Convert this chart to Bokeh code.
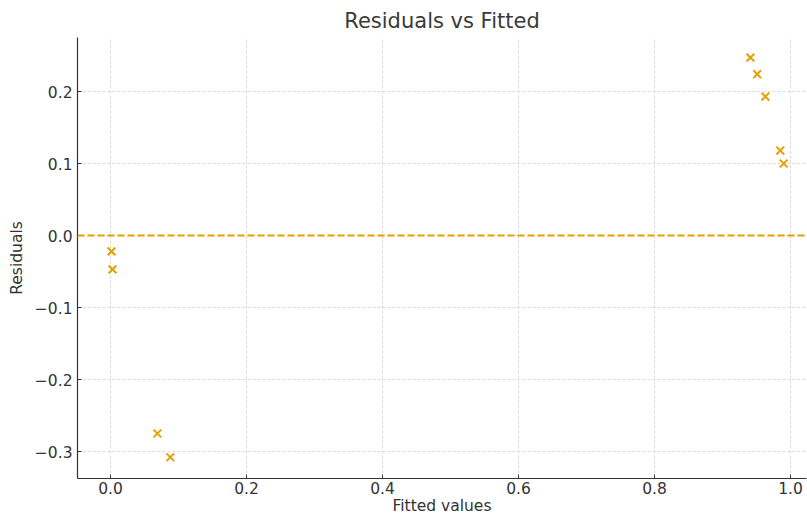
from bokeh.plotting import figure
from bokeh.models import Span, FixedTicker, CustomJSTickFormatter, Range1d
from bokeh.embed import file_html
from bokeh.resources import INLINE

fitted = [0.941, 0.951, 0.963, 0.985, 0.990, 0.0015, 0.003, 0.069, 0.088]
residuals = [0.247, 0.224, 0.193, 0.118, 0.100, -0.022, -0.047, -0.275, -0.308]
x_ticks = [0.0, 0.2, 0.4, 0.6, 0.8, 1.0]
y_ticks = [-0.3, -0.2, -0.1, 0.0, 0.1, 0.2]

ORANGE = "#E69F00"
FONT = "DejaVu Sans"

p = figure(width=807, height=519, output_backend="svg", toolbar_location=None,
           x_range=Range1d(-0.0485, 1.0235), y_range=Range1d(-0.3375, 0.275),
           min_border_left=77, min_border_right=1, min_border_top=37, min_border_bottom=41)

p.title.text = "Residuals vs Fitted"
p.title.align = "center"
p.title.text_font = FONT
p.title.text_font_size = "21px"
p.title.text_font_style = "normal"
p.title.text_color = "#3a3a3a"

p.outline_line_color = None

p.scatter(fitted, residuals, marker="x", size=11, line_width=2, color=ORANGE)
p.add_layout(Span(location=0, dimension="width", line_color=ORANGE, line_width=1.8, line_dash="7 3"))

fmt = CustomJSTickFormatter(code="return tick.toFixed(1).replace('-', '\\u2212');")
p.xaxis.ticker = FixedTicker(ticks=x_ticks)
p.yaxis.ticker = FixedTicker(ticks=y_ticks)
p.xaxis.formatter = fmt
p.yaxis.formatter = fmt

for ax in (p.xaxis, p.yaxis):
    ax.major_label_text_font = FONT
    ax.major_label_text_font_size = "15.5px"
    ax.major_label_text_color = "#333333"
    ax.axis_label_text_font = FONT
    ax.axis_label_text_font_size = "15.5px"
    ax.axis_label_text_font_style = "normal"
    ax.axis_label_text_color = "#333333"
    ax.axis_line_color = "#333333"
    ax.axis_line_width = 1.2
    ax.major_tick_line_color = "#333333"
    ax.major_tick_in = 4
    ax.major_tick_out = 0
    ax.minor_tick_line_color = None

p.xaxis.major_label_standoff = 3
p.xaxis.axis_label = "Fitted values"
p.yaxis.axis_label = "Residuals"
p.xaxis.axis_label_standoff = 0
p.yaxis.axis_label_standoff = 6

p.grid.grid_line_color = "#d0d0d0"
p.grid.grid_line_dash = "3 2"
p.grid.grid_line_width = 0.8

open("out.html", "w").write(file_html(p, INLINE))
